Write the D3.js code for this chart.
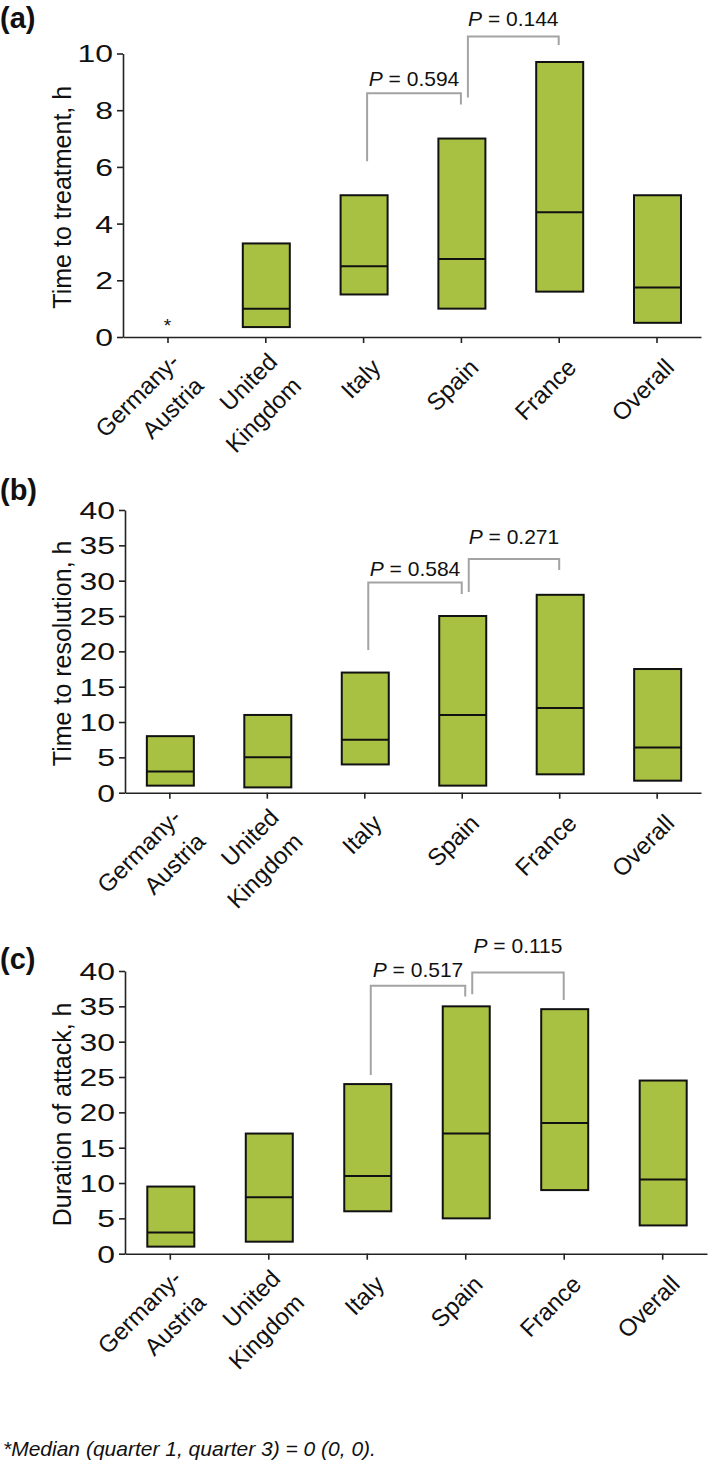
<!DOCTYPE html>
<html><head><meta charset="utf-8">
<script src="https://cdn.jsdelivr.net/npm/d3@7/dist/d3.min.js"></script>
<style>
body{margin:0;background:#fff;}
svg{display:block;}
text{font-family:"Liberation Sans", Arial, Helvetica, sans-serif;fill:#111;}
</style>
</head><body>
<svg id="chart" width="709" height="1461"></svg>
<script>
// ---------- data ----------
const categories = ["Germany-Austria", "United Kingdom", "Italy", "Spain", "France", "Overall"];
const categoryLines = [["Germany-", "Austria"], ["United", "Kingdom"], ["Italy"], ["Spain"], ["France"], ["Overall"]];

// (a) Time to treatment, h  (Germany-Austria: median (Q1, Q3) = 0 (0, 0), shown as *)
const treatQ1     = [null, 0.35, 1.5, 1.0, 1.6, 0.5];
const treatMedian = [null, 1.0, 2.5, 2.75, 4.4, 1.75];
const treatQ3     = [null, 3.3, 5.0, 7.0, 9.7, 5.0];
const treatTicks  = [0, 2, 4, 6, 8, 10];

// (b) Time to resolution, h
const resolQ1     = [1.0, 0.75, 4.0, 1.0, 2.6, 1.7];
const resolMedian = [3.0, 5.0, 7.5, 11.0, 12.0, 6.4];
const resolQ3     = [8.0, 11.0, 17.0, 25.0, 28.0, 17.5];
const resolTicks  = [0, 5, 10, 15, 20, 25, 30, 35, 40];

// (c) Duration of attack, h
const durQ1     = [1.0, 1.7, 6.0, 5.0, 9.0, 4.0];
const durMedian = [3.0, 8.0, 11.0, 17.0, 18.5, 10.5];
const durQ3     = [9.5, 17.0, 24.0, 35.0, 34.6, 24.5];
const durTicks  = [0, 5, 10, 15, 20, 25, 30, 35, 40];

// P-value comparisons: [from, to, P, left-leg end, bracket top, right-leg end, label baseline] (data units)
const treatPairs = [["Italy", "Spain", "0.594", 6.2, 8.6, 8.2, 8.86], ["Spain", "France", "0.144", 8.45, 10.6, 10.3, 10.98]];
const resolPairs = [["Italy", "Spain", "0.584", 20.2, 29.75, 28.1, 30.65], ["Spain", "France", "0.271", 28.4, 33.05, 31.5, 35.2]];
const durPairs   = [["Italy", "Spain", "0.517", 25.3, 37.9, 36.4, 39.2], ["Spain", "France", "0.115", 36.7, 39.8, 35.9, 42.6]];

const panelLetters = ["(a)", "(b)", "(c)"];
const yTitles = ["Time to treatment, h", "Time to resolution, h", "Duration of attack, h"];
const footnote = "*Median (quarter 1, quarter 3) = 0 (0, 0).";

// ---------- layout ----------
const panels = [
  {letter: panelLetters[0], title: yTitles[0], q1: treatQ1, med: treatMedian, q3: treatQ3, ticks: treatTicks, pairs: treatPairs,
   max: 10, x0: 123, x1: 701, yTop: 53.5, yBot: 337, letterY: 28},
  {letter: panelLetters[1], title: yTitles[1], q1: resolQ1, med: resolMedian, q3: resolQ3, ticks: resolTicks, pairs: resolPairs,
   max: 40, x0: 125, x1: 701, yTop: 510, yBot: 792.7, letterY: 500},
  {letter: panelLetters[2], title: yTitles[2], q1: durQ1, med: durMedian, q3: durQ3, ticks: durTicks, pairs: durPairs,
   max: 40, x0: 125, x1: 707, yTop: 971, yBot: 1253.7, letterY: 969}
];

const svg = d3.select("#chart");
const boxFill = "#a8c143";
const boxW = 47;

panels.forEach(p => {
  const g = svg.append("g");
  const x = d3.scalePoint().domain(categories).range([p.x0, p.x1]).padding(0.455);
  const y = d3.scaleLinear().domain([0, p.max]).range([p.yBot, p.yTop]);

  // panel letter
  g.append("text").attr("x", 0).attr("y", p.letterY)
    .attr("font-size", 29).attr("font-weight", "bold").text(p.letter);

  // y axis
  const ya = g.append("g").attr("transform", `translate(${p.x0},0)`)
    .call(d3.axisLeft(y).tickValues(p.ticks).tickSize(6).tickSizeOuter(0).tickFormat(d3.format("d")));
  ya.select(".domain").attr("stroke", "#222").attr("stroke-width", 1.6);
  ya.selectAll(".tick line").attr("stroke", "#222").attr("stroke-width", 1.6);
  ya.selectAll(".tick text").attr("x", 0).attr("dy", "0.35em").attr("transform", "translate(-10,0) scale(1.33,1)")
    .attr("font-size", 24).attr("font-family", "Liberation Sans, Arial, sans-serif").attr("fill", "#111");

  // x axis
  const xa = g.append("g").attr("transform", `translate(0,${p.yBot})`)
    .call(d3.axisBottom(x).tickSize(6).tickSizeOuter(0).tickFormat(""));
  xa.select(".domain").attr("stroke", "#222").attr("stroke-width", 1.6);
  xa.selectAll(".tick line").attr("stroke", "#222").attr("stroke-width", 1.6);

  // category labels
  categories.forEach((c, i) => {
    const lines = categoryLines[i];
    const t = g.append("text")
      .attr("transform", `translate(${x(c) + 19},${p.yBot + 32}) rotate(-45)`)
      .attr("text-anchor", "end").attr("font-size", 24);
    const ys = lines.length === 1 ? [0] : [-8, 26];
    lines.forEach((ln, k) => t.append("tspan").attr("x", 0).attr("y", ys[k]).text(ln));
  });

  // y title
  g.append("text")
    .attr("transform", `translate(71,${(p.yTop + p.yBot) / 2 + 2}) rotate(-90)`)
    .attr("text-anchor", "middle").attr("font-size", 25).text(p.title);

  // boxes
  categories.forEach((c, i) => {
    if (p.q1[i] == null) {
      g.append("text").attr("x", x(c)).attr("y", y(0) - 5)
        .attr("text-anchor", "middle").attr("font-size", 19).text("*");
      return;
    }
    g.append("rect")
      .attr("x", x(c) - boxW / 2 + 1).attr("width", boxW)
      .attr("y", y(p.q3[i])).attr("height", y(p.q1[i]) - y(p.q3[i]))
      .attr("fill", boxFill).attr("stroke", "#111").attr("stroke-width", 2);
    g.append("line")
      .attr("x1", x(c) - boxW / 2 + 1).attr("x2", x(c) + boxW / 2 + 1)
      .attr("y1", y(p.med[i])).attr("y2", y(p.med[i]))
      .attr("stroke", "#111").attr("stroke-width", 2);
  });

  // brackets
  p.pairs.forEach((pr, k) => {
    const [from, to, pv, lEnd, top, rEnd, lab] = pr;
    const xl = x(from) + (k === 0 ? 4 : 7);
    const xr = x(to);
    g.append("path")
      .attr("d", `M${xl},${y(lEnd)}V${y(top)}H${xr}V${y(rEnd)}`)
      .attr("fill", "none").attr("stroke", "#a3a3a3").attr("stroke-width", 2);
    const t = g.append("text").attr("x", (xl + xr) / 2).attr("y", y(lab))
      .attr("text-anchor", "middle").attr("font-size", 21);
    t.append("tspan").attr("font-style", "italic").text("P");
    t.append("tspan").text(" = " + pv);
  });
});

svg.append("text").attr("x", 3).attr("y", 1456)
  .attr("font-size", 21).attr("font-style", "italic").text(footnote);
</script>
</body></html>
